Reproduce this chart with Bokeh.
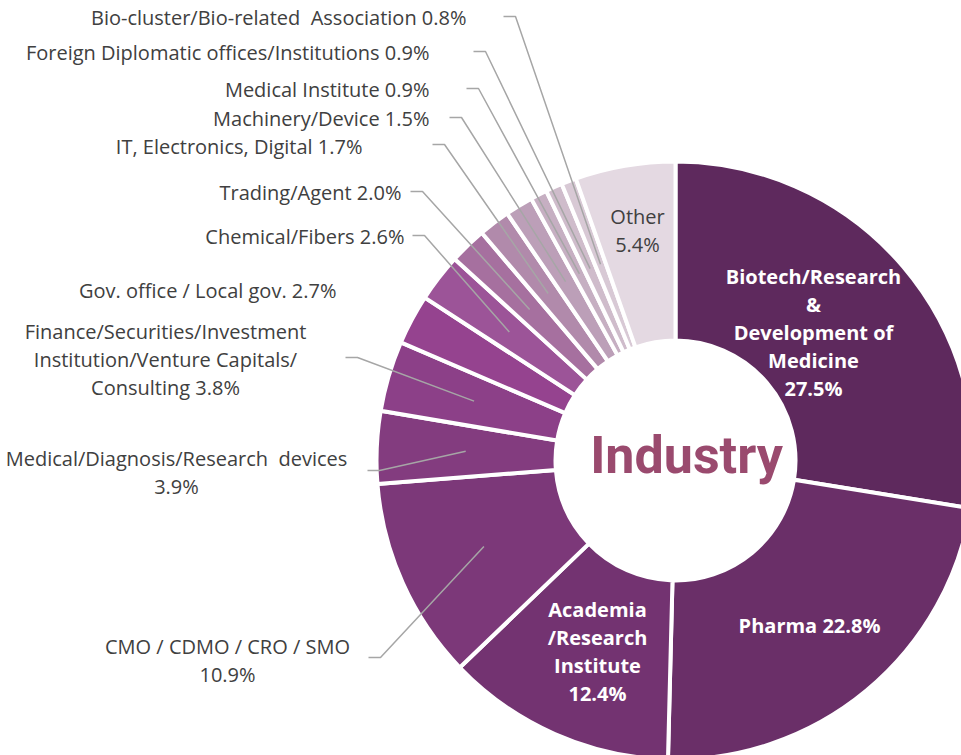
import numpy as np
from bokeh.plotting import figure
from bokeh.models import Range1d, ColumnDataSource
from bokeh.core.properties import value
from bokeh.embed import file_html
from bokeh.resources import INLINE

# ---------------- data ----------------
categories = [
    "Biotech/Research & Development of Medicine", "Pharma", "Academia/Research Institute",
    "CMO / CDMO / CRO / SMO", "Medical/Diagnosis/Research devices",
    "Finance/Securities/Investment Institution/Venture Capitals/Consulting",
    "Gov. office / Local gov.", "Chemical/Fibers", "Trading/Agent",
    "IT, Electronics, Digital", "Machinery/Device", "Medical Institute",
    "Foreign Diplomatic offices/Institutions", "Bio-cluster/Bio-related Association", "Other",
]
shares = [27.5, 22.8, 12.4, 10.9, 3.9, 3.8, 2.7, 2.6, 2.0, 1.7, 1.5, 0.9, 0.9, 0.8, 5.4]
colors = ["#5e295d", "#6a2f68", "#733371", "#7c3879", "#833c7f", "#8c4088", "#95438f",
          "#9c5498", "#a6709f", "#b18aab", "#bc9fb8", "#c6afc2", "#cfbccb", "#d8c9d5", "#e4d9e2"]

label_texts = [
    "Biotech/Research\n&\nDevelopment of\nMedicine\n27.5%",
    "Pharma 22.8%",
    "Academia\n/Research\nInstitute\n12.4%",
    "CMO / CDMO / CRO / SMO\n10.9%",
    "Medical/Diagnosis/Research\u00a0 devices\n3.9%",
    "Finance/Securities/Investment\nInstitution/Venture Capitals/\nConsulting 3.8%",
    "Gov. office / Local gov. 2.7%",
    "Chemical/Fibers 2.6%",
    "Trading/Agent 2.0%",
    "IT, Electronics, Digital 1.7%",
    "Machinery/Device 1.5%",
    "Medical Institute 0.9%",
    "Foreign Diplomatic offices/Institutions 0.9%",
    "Bio-cluster/Bio-related\u00a0 Association 0.8%",
    "Other\n5.4%",
]

# ---------------- layout (screen pixel coordinates, y downward) ----------------
W, H = 961, 755
CX_PX, CY_PX = 675, 460
R_OUT, R_IN = 297, 122
R_LEAD = 210

def Y(py):
    return H - py

# label anchor positions (px) and alignment / style
label_pos = {
    0: (813, 332, "center", "bold", "white"),
    1: (809, 625, "center", "bold", "white"),
    2: (597, 651, "center", "bold", "white"),
    3: (227, 660, "center", "normal", "#404040"),
    4: (176, 472, "center", "normal", "#404040"),
    5: (165, 359, "center", "normal", "#404040"),
    6: (336, 290, "right", "normal", "#404040"),
    7: (404, 236, "right", "normal", "#404040"),
    8: (401, 192, "right", "normal", "#404040"),
    9: (362, 146, "right", "normal", "#404040"),
    10: (429, 118, "right", "normal", "#404040"),
    11: (429, 89, "right", "normal", "#404040"),
    12: (429, 52, "right", "normal", "#404040"),
    13: (466, 17, "right", "normal", "#404040"),
    14: (637, 230, "center", "normal", "#404040"),
}
# leader line start points (px) on the label side, for outside labels
leader_start = {
    3: (368, 657), 4: (367, 470), 5: (345, 357),
    7: (412, 235), 8: (410, 191), 9: (432, 144), 10: (449, 117),
    11: (466, 88), 12: (473, 51), 13: (503, 16),
}

# ---------------- figure ----------------
p = figure(width=W, height=H, output_backend="svg", toolbar_location=None,
           x_range=Range1d(0, W), y_range=Range1d(0, H),
           min_border=0, outline_line_color=None)
p.axis.visible = False
p.grid.visible = False
p.background_fill_color = "white"
p.border_fill_color = "white"

vals = np.array(shares, dtype=float)
frac = vals / vals.sum()
cum = np.concatenate([[0.0], np.cumsum(frac)])
th0 = cum[:-1] * 2 * np.pi      # clockwise from 12 o'clock
th1 = cum[1:] * 2 * np.pi
mid = (th0 + th1) / 2

src = ColumnDataSource(dict(start=np.pi / 2 - th1, end=np.pi / 2 - th0, color=colors))
p.annular_wedge(x=CX_PX, y=Y(CY_PX), inner_radius=R_IN - 2, outer_radius=R_OUT + 2,
                start_angle="start", end_angle="end", direction="anticlock",
                fill_color="color", line_color="white", line_width=4, source=src)

# leader lines
xs, ys = [], []
for i, (sx, sy) in leader_start.items():
    ex = CX_PX + R_LEAD * np.sin(mid[i])
    ey = CY_PX - R_LEAD * np.cos(mid[i])
    xs.append([sx, sx + 12, ex])
    ys.append([Y(sy), Y(sy), Y(ey)])
p.multi_line(xs=xs, ys=ys, line_color="#a6a6a6", line_width=1.5)

# labels
for i, (lx, ly, align, style, col) in label_pos.items():
    p.text(x=[lx], y=[Y(ly)], text=[label_texts[i]], text_align=align,
           text_baseline="middle", text_font=value("Open Sans"),
           text_font_size="20px", text_font_style=style, text_color=col,
           text_line_height=1.04)

# center title
p.text(x=[686], y=[Y(455)], text=["Industry"], text_align="center",
       text_baseline="middle", text_font=value("Roboto"), text_font_size="52px",
       text_font_style="bold", text_color="#9a4a6e")

open("out.html", "w").write(file_html(p, INLINE))
